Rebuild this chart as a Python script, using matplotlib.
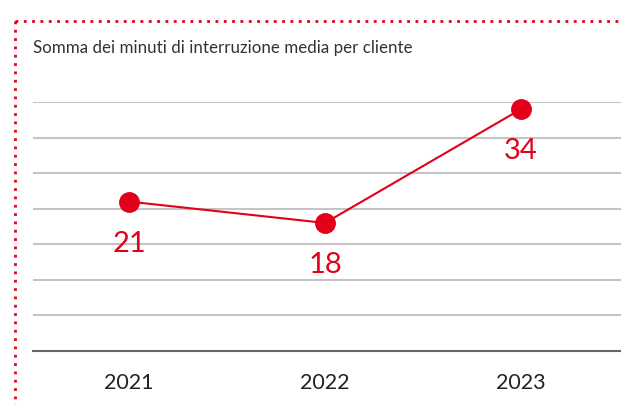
import matplotlib.pyplot as plt
from matplotlib.lines import Line2D

years = ['2021', '2022', '2023']
minutes = [21, 18, 34]
title = 'Somma dei minuti di interruzione media per cliente'

RED = '#e2001a'
W, H = 621, 406

plt.rcParams['font.family'] = ['Lato', 'DejaVu Sans']

fig = plt.figure(figsize=(W / 100, H / 100), dpi=100)
ax = fig.add_axes([33 / W, (H - 352) / H, 1 - 33 / W, (352 - 103) / H])

x = list(range(len(years)))
ax.plot(x, minutes, color=RED, lw=1.5, marker='o', ms=14, zorder=3, clip_on=False)
for xi, v in zip(x, minutes):
    ax.annotate(str(v), (xi, v), xytext=(0, -29.5), textcoords='offset points',
                ha='center', va='center', color=RED, fontsize=21)

ax.set_xlim(-0.49, 2.51)
ax.set_ylim(0, 35)
ax.set_yticks(range(5, 40, 5))
ax.yaxis.grid(True, color='#c4c4c4', lw=1.5)
ax.set_axisbelow(True)
ax.tick_params(left=False, labelleft=False, bottom=False)
ax.set_xticks(x)
ax.set_xticklabels(years, fontsize=15.5, color='#222222')
ax.tick_params(axis='x', pad=11.5)
for s in ('top', 'right', 'left'):
    ax.spines[s].set_visible(False)
ax.spines['bottom'].set_color('#666666')
ax.spines['bottom'].set_linewidth(1.5)

fig.text(33 / W, 1 - 48 / H, title, fontsize=12.2, color='#333333',
         va='center', ha='left')

# dotted red frame, left and top
dots = dict(color=RED, lw=2, linestyle=(0, (1, 2)), transform=fig.transFigure)
fig.add_artist(Line2D([15 / W, 15 / W], [1 - 22 / H, 0], **dots))
fig.add_artist(Line2D([15 / W, 1], [1 - 22 / H, 1 - 22 / H], **dots))

fig.savefig('out.png', dpi=100)
